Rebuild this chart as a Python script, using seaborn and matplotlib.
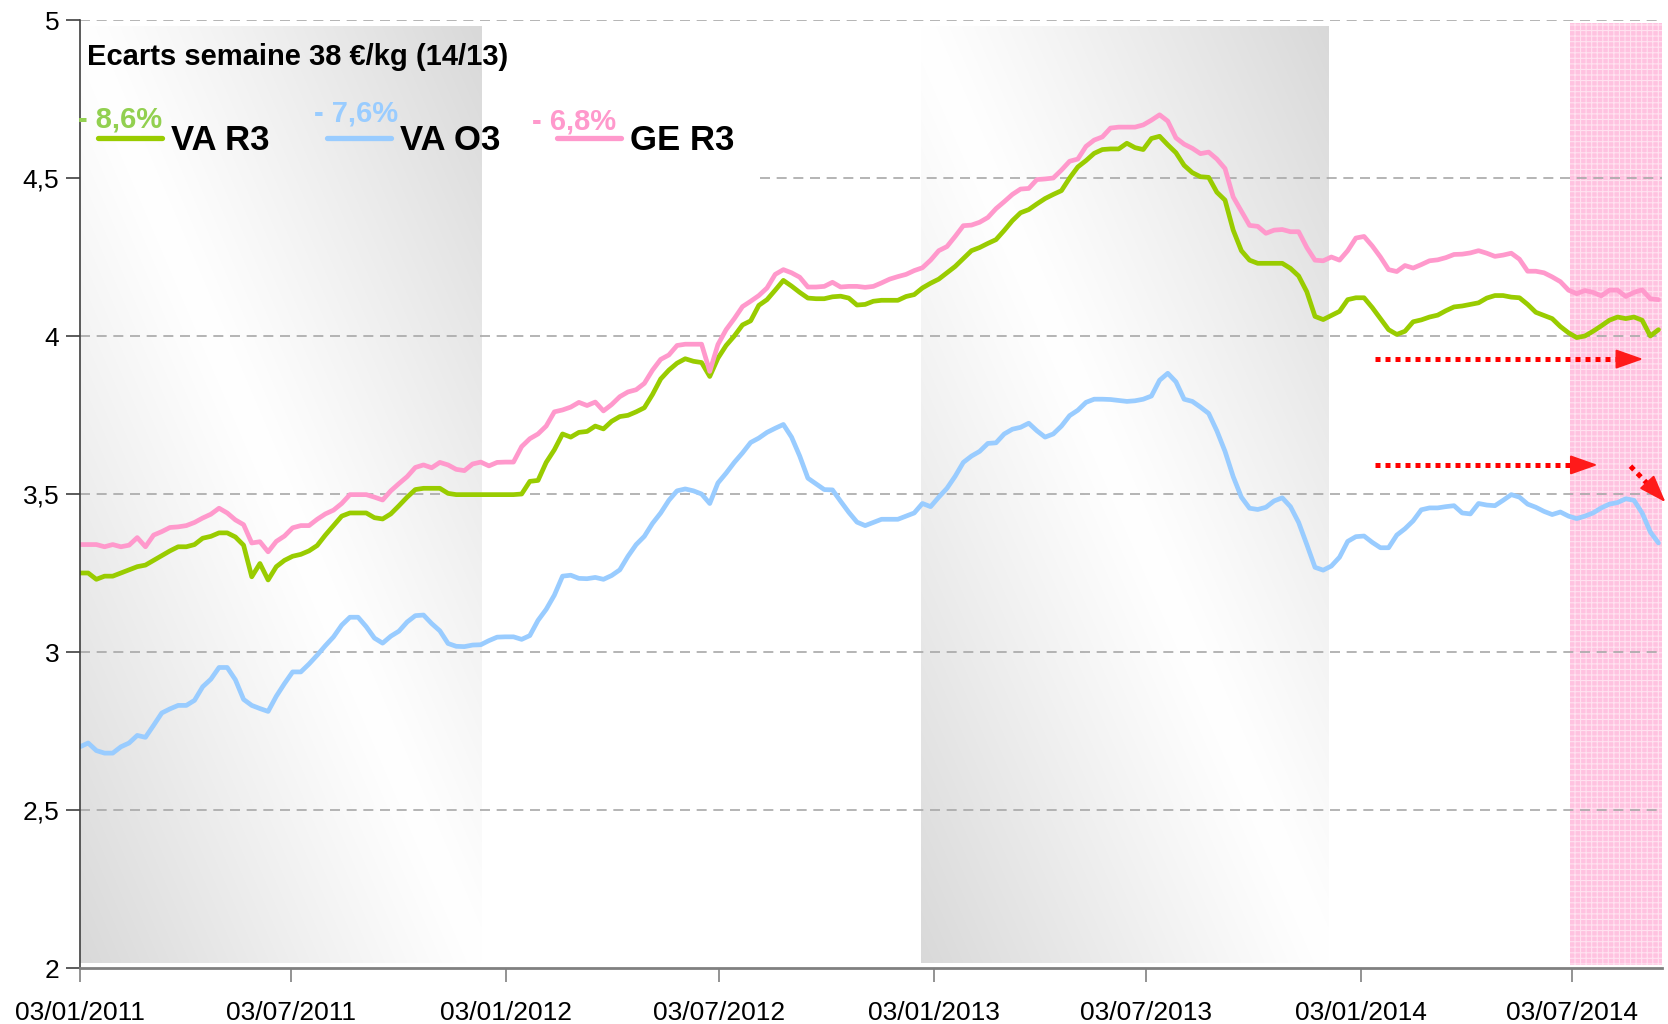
import numpy as np
import pandas as pd
import matplotlib
matplotlib.use("Agg")
import matplotlib.pyplot as plt
import matplotlib.dates as mdates
from matplotlib.lines import Line2D
from matplotlib import font_manager as fm
import seaborn as sns

# ---------------- data ----------------
dates = pd.date_range("2011-01-03", periods=194, freq="7D")

va_r3 = [3.25, 3.25, 3.23, 3.24, 3.24, 3.25, 3.26, 3.27, 3.275, 3.29,
         3.305, 3.32, 3.333, 3.333, 3.34, 3.36, 3.366, 3.377, 3.377, 3.364,
         3.338, 3.238, 3.28, 3.228, 3.27, 3.29, 3.303, 3.309, 3.32, 3.337,
         3.37, 3.40, 3.43, 3.44, 3.44, 3.44, 3.425, 3.421, 3.437, 3.463,
         3.49, 3.514, 3.518, 3.518, 3.518, 3.502, 3.498, 3.498, 3.498, 3.498,
         3.498, 3.498, 3.498, 3.498, 3.50, 3.54, 3.543, 3.60, 3.64, 3.69,
         3.68, 3.695, 3.698, 3.715, 3.706, 3.73, 3.745, 3.749, 3.76, 3.773,
         3.815, 3.864, 3.892, 3.914, 3.928, 3.92, 3.916, 3.872, 3.93, 3.97,
         4.0, 4.035, 4.048, 4.097, 4.115, 4.145, 4.176, 4.158, 4.138, 4.12,
         4.118, 4.118, 4.124, 4.126, 4.12, 4.098, 4.10, 4.11, 4.113, 4.113,
         4.113, 4.125, 4.131, 4.152, 4.167, 4.18, 4.20, 4.22, 4.245, 4.27,
         4.28, 4.293, 4.305, 4.334, 4.365, 4.39, 4.40, 4.418, 4.435, 4.448,
         4.46, 4.50, 4.535, 4.555, 4.578, 4.59, 4.592, 4.592, 4.61, 4.596,
         4.59, 4.625, 4.632, 4.605, 4.58, 4.54, 4.517, 4.504, 4.502, 4.455,
         4.43, 4.335, 4.27, 4.24, 4.23, 4.23, 4.23, 4.23, 4.214, 4.19,
         4.14, 4.062, 4.052, 4.065, 4.078, 4.115, 4.121, 4.121, 4.09, 4.055,
         4.02, 4.005, 4.015, 4.045, 4.051, 4.06, 4.066, 4.08, 4.092, 4.095,
         4.10, 4.105, 4.12, 4.128, 4.128, 4.123, 4.121, 4.10, 4.075, 4.065,
         4.055, 4.03, 4.01, 3.995, 4.0, 4.015, 4.032, 4.05, 4.06, 4.055,
         4.06, 4.05, 4.00, 4.02]

va_o3 = [2.70, 2.712, 2.688, 2.68, 2.68, 2.70, 2.712, 2.736, 2.73, 2.768,
         2.807, 2.82, 2.831, 2.831, 2.847, 2.89, 2.914, 2.951, 2.951, 2.912,
         2.85, 2.831, 2.821, 2.812, 2.86, 2.90, 2.937, 2.937, 2.962, 2.99,
         3.02, 3.048, 3.085, 3.11, 3.11, 3.08, 3.044, 3.028, 3.05, 3.066,
         3.095, 3.115, 3.117, 3.09, 3.067, 3.027, 3.018, 3.017, 3.022, 3.023,
         3.036, 3.047, 3.048, 3.048, 3.04, 3.052, 3.10, 3.135, 3.18, 3.24,
         3.243, 3.233, 3.232, 3.236, 3.23, 3.242, 3.26, 3.303, 3.34, 3.366,
         3.407, 3.44, 3.48, 3.51, 3.516, 3.51, 3.50, 3.47, 3.535, 3.566,
         3.60, 3.63, 3.663, 3.677, 3.695, 3.708, 3.72, 3.68, 3.62, 3.55,
         3.532, 3.514, 3.513, 3.477, 3.442, 3.411, 3.40, 3.41, 3.42, 3.42,
         3.42, 3.43, 3.44, 3.47, 3.46, 3.49, 3.518, 3.556, 3.60, 3.62,
         3.635, 3.66, 3.662, 3.69, 3.705, 3.711, 3.724, 3.70, 3.68, 3.69,
         3.715, 3.748, 3.765, 3.79, 3.80, 3.80, 3.799, 3.796, 3.793, 3.795,
         3.80, 3.81, 3.86, 3.882, 3.855, 3.80, 3.793, 3.775, 3.755, 3.70,
         3.635, 3.555, 3.49, 3.455, 3.451, 3.458, 3.478, 3.488, 3.46, 3.41,
         3.34, 3.268, 3.259, 3.272, 3.30, 3.35, 3.365, 3.367, 3.347, 3.33,
         3.33, 3.37, 3.39, 3.415, 3.45, 3.456, 3.456, 3.46, 3.463, 3.44,
         3.437, 3.47, 3.465, 3.463, 3.48, 3.498, 3.49, 3.468, 3.458, 3.445,
         3.435, 3.443, 3.43, 3.422, 3.43, 3.44, 3.456, 3.468, 3.473, 3.485,
         3.48, 3.44, 3.38, 3.345]

ge_r3 = [3.34, 3.34, 3.34, 3.333, 3.34, 3.333, 3.338, 3.362, 3.333, 3.37,
         3.381, 3.394, 3.396, 3.40, 3.41, 3.424, 3.436, 3.455, 3.44, 3.418,
         3.403, 3.345, 3.349, 3.317, 3.35, 3.367, 3.393, 3.40, 3.40, 3.42,
         3.437, 3.449, 3.47, 3.498, 3.498, 3.498, 3.49, 3.481, 3.51, 3.533,
         3.555, 3.584, 3.592, 3.583, 3.60, 3.592, 3.578, 3.574, 3.595, 3.601,
         3.589, 3.60, 3.601, 3.601, 3.65, 3.675, 3.69, 3.715, 3.76, 3.766,
         3.775, 3.79, 3.78, 3.791, 3.763, 3.783, 3.808, 3.823, 3.83, 3.85,
         3.892, 3.926, 3.94, 3.97, 3.974, 3.974, 3.974, 3.888, 3.973, 4.02,
         4.055, 4.093, 4.11, 4.128, 4.152, 4.195, 4.21, 4.20, 4.186, 4.155,
         4.155, 4.157, 4.17, 4.155, 4.157, 4.157, 4.154, 4.157, 4.168, 4.18,
         4.188, 4.195, 4.207, 4.216, 4.24, 4.27, 4.283, 4.315, 4.349, 4.351,
         4.36, 4.375, 4.403, 4.425, 4.448, 4.465, 4.467, 4.495, 4.497, 4.50,
         4.525, 4.553, 4.56, 4.60, 4.62, 4.63, 4.658, 4.661, 4.661, 4.661,
         4.668, 4.683, 4.70, 4.68, 4.627, 4.607, 4.594, 4.577, 4.582, 4.56,
         4.53, 4.44, 4.395, 4.35, 4.347, 4.325, 4.335, 4.337, 4.33, 4.33,
         4.28, 4.24, 4.238, 4.25, 4.24, 4.27, 4.31, 4.315, 4.285, 4.25,
         4.21, 4.204, 4.223, 4.215, 4.226, 4.238, 4.241, 4.248, 4.258, 4.259,
         4.263, 4.27, 4.262, 4.252, 4.256, 4.262, 4.243, 4.205, 4.205, 4.20,
         4.187, 4.172, 4.145, 4.134, 4.144, 4.138, 4.127, 4.145, 4.145, 4.125,
         4.138, 4.146, 4.118, 4.115]

series_names = ["VA R3", "VA O3", "GE R3"]
series_colors = ["#99cc00", "#99ccff", "#ff99cc"]
pct_labels = ["- 8,6%", "- 7,6%", "- 6,8%"]
pct_colors = ["#92d050", "#99ccff", "#ff99cc"]
title_text = "Ecarts semaine 38 €/kg (14/13)"

x_tick_dates = pd.to_datetime(["2011-01-03", "2011-07-03", "2012-01-03", "2012-07-03",
                               "2013-01-03", "2013-07-03", "2014-01-03", "2014-07-03"])
x_tick_labels = ["03/01/2011", "03/07/2011", "03/01/2012", "03/07/2012",
                 "03/01/2013", "03/07/2013", "03/01/2014", "03/07/2014"]
y_ticks = [2, 2.5, 3, 3.5, 4, 4.5, 5]
y_tick_labels = ["2", "2,5", "3", "3,5", "4", "4,5", "5"]

shade_periods = [("2011-01-03", "2011-12-13"), ("2012-12-23", "2013-12-07")]
pink_period = ("2014-07-01", "2014-09-18")
x_end = "2014-09-18"

# red trend arrows: (start date, start value, end date, end value)
arrow_start_dates = ["2014-01-15", "2014-01-15", "2014-08-22"]
arrow_start_vals = [3.927, 3.592, 3.588]
arrow_end_dates = ["2014-09-02", "2014-07-25", "2014-09-21"]
arrow_end_vals = [3.927, 3.592, 3.474]

# ---------------- style ----------------
sns.set_style("white")
names = {f.name for f in fm.fontManager.ttflist}
narrow_ok = "Liberation Sans Narrow" in names
tick_family = ["Liberation Sans Narrow", "Liberation Sans", "DejaVu Sans"] if narrow_ok else ["Liberation Sans", "DejaVu Sans"]
tick_size = 23 if narrow_ok else 19
pct_family = tick_family
pct_size = 23 if narrow_ok else 21
plt.rcParams["font.family"] = ["Liberation Sans", "DejaVu Sans"]
plt.rcParams["text.color"] = "black"
plt.rcParams["xtick.color"] = "black"
plt.rcParams["ytick.color"] = "black"
plt.rcParams["hatch.linewidth"] = 0.8

fig = plt.figure(figsize=(16.68, 10.24), dpi=100)
ax = fig.add_axes([80 / 1668, 56 / 1024, 1582 / 1668, 948 / 1024])

df = pd.DataFrame({
    "date": np.tile(dates, 3),
    "value": va_r3 + va_o3 + ge_r3,
    "series": np.repeat(series_names, len(dates)),
})

sns.lineplot(data=df, x="date", y="value", hue="series", hue_order=series_names,
             palette=series_colors, linewidth=3.4, legend=False, ax=ax, zorder=6)

xmin = mdates.date2num(dates[0])
xmax = mdates.date2num(pd.Timestamp(x_end))

# gradient shaded periods
n = 300
u = np.linspace(0, 1, n)[None, :]
v = np.linspace(1, 0, n)[:, None]
t = np.abs(u + v - 1)
g = 1 - 0.15 * t ** 1.1
img = np.dstack([g, g, g])
for a, b in shade_periods:
    ax.imshow(img, extent=[mdates.date2num(pd.Timestamp(a)), mdates.date2num(pd.Timestamp(b)), 2.015, 4.98],
              aspect="auto", zorder=0, interpolation="bilinear")

# pink hatched period
ax.axvspan(pd.Timestamp(pink_period[0]), pd.Timestamp(pink_period[1]), ymin=0.003, ymax=0.997,
           facecolor="#ffc2e0", edgecolor="#ffe2f0", hatch="+++", linewidth=0, zorder=1)

# grid lines
for yv in [2.5, 3, 3.5, 4, 5]:
    ax.axhline(yv, color="#a8a8a8", lw=1.2, ls=(0, (6, 4)), zorder=2)
ax.hlines(4.5, mdates.date2num(pd.Timestamp("2012-08-07")), xmax, color="#a8a8a8", lw=1.2,
          ls=(0, (6, 4)), zorder=2)

# arrows: dotted shaft + solid head
for sd, sv, ed, ev in zip(arrow_start_dates, arrow_start_vals, arrow_end_dates, arrow_end_vals):
    x0 = mdates.date2num(pd.Timestamp(sd))
    x1 = mdates.date2num(pd.Timestamp(ed))
    p0 = ax.transData.transform((x0, sv))
    p1 = ax.transData.transform((x1, ev))
    d = p1 - p0
    d = d / np.hypot(*d)
    head_px = 20
    pb = p1 - d * head_px * 0.6
    xb, yb = ax.transData.inverted().transform(pb)
    ax.plot([x0, xb], [sv, yb], color="#ff0000", lw=3.6, ls=(0, (1, 1)),
            dash_capstyle="butt", zorder=7, clip_on=False)
    off = -d * head_px * 72 / 100
    ax.annotate("", xy=(x1, ev), xytext=(off[0], off[1]), textcoords="offset points",
                arrowprops=dict(arrowstyle="-|>,head_length=0.85,head_width=0.3",
                                color="#ff1a1a", lw=1.5, shrinkA=0, shrinkB=0,
                                mutation_scale=20),
                zorder=7, annotation_clip=False)

ax.set_xlim(xmin, xmax)
ax.set_ylim(2, 5)
ax.set_xticks([mdates.date2num(d) for d in x_tick_dates])
ax.set_xticklabels(x_tick_labels, family=tick_family, fontsize=tick_size, color="black")
ax.set_yticks(y_ticks)
ax.set_yticklabels(y_tick_labels, family=tick_family, fontsize=tick_size, color="black")
ax.set_xlabel("")
ax.set_ylabel("")
ax.tick_params(axis="y", left=True, length=10, width=1.2, color="#404040", pad=5)
ax.tick_params(axis="x", bottom=True, length=10, width=1.2, color="#808080", pad=14)
for s in ["top", "right"]:
    ax.spines[s].set_visible(False)
ax.spines["left"].set_color("#404040")
ax.spines["left"].set_linewidth(1.2)
ax.spines["bottom"].set_color("#808080")
ax.spines["bottom"].set_linewidth(2)
ax.spines["left"].set_zorder(8)
ax.spines["bottom"].set_zorder(8)

# title
fig.text(87 / 1668, 1 - 57 / 1024, title_text, fontsize=21, fontweight="bold", va="center",
         ha="left", color="black")

# legend
handles = [Line2D([0], [0], color=c, lw=3.8, solid_capstyle="round") for c in series_colors]
leg = fig.legend(handles, series_names, ncol=3, loc="upper left",
                 bbox_to_anchor=(98 / 1668, 1 - 124 / 1024), bbox_transform=fig.transFigure,
                 frameon=False, borderpad=0, borderaxespad=0, handlelength=1.84, handletextpad=0.26,
                 columnspacing=1.65, prop=dict(family="Liberation Sans", weight="bold", size=25))
for txt in leg.get_texts():
    txt.set_color("black")

# percentages
pct_x = [78, 314, 532]
pct_y = [120, 114, 121]
for lab, col, px, py in zip(pct_labels, pct_colors, pct_x, pct_y):
    fig.text(px / 1668, 1 - py / 1024, lab, color=col, fontsize=pct_size, fontweight="bold",
             va="center", ha="left", family=pct_family)

fig.savefig("out.png", dpi=100)
